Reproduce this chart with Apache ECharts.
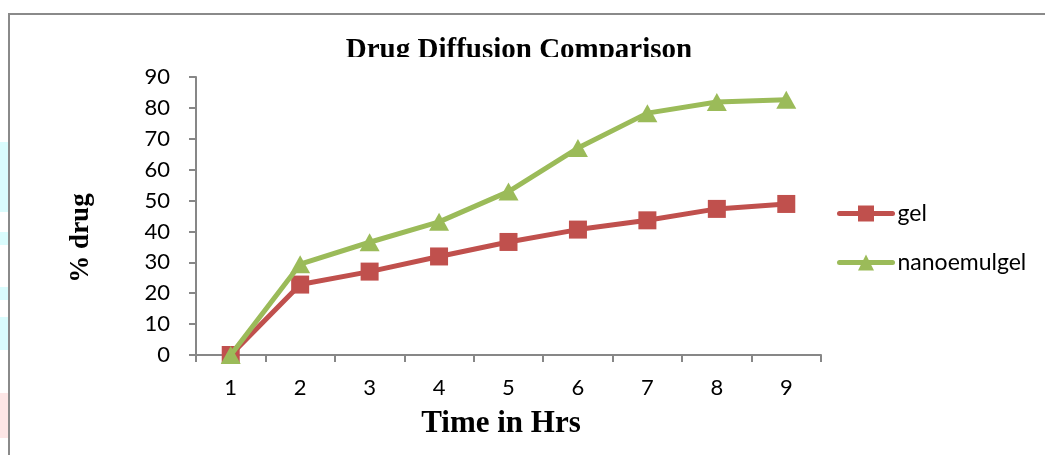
<!DOCTYPE html>
<html>
<head>
<meta charset="utf-8">
<title>Drug Diffusion Comparison</title>
<script src="https://cdn.jsdelivr.net/npm/echarts@6/dist/echarts.min.js"></script>
<style>
  html, body { margin: 0; padding: 0; background: #ffffff; }
  #chart { width: 1045px; height: 455px; }
</style>
</head>
<body>
<div id="chart"></div>
<script>
// Time points (hours)
const categories = ['1', '2', '3', '4', '5', '6', '7', '8', '9'];
// Cumulative % drug diffused
const gelValues = [0, 22.8, 27.0, 31.9, 36.6, 40.6, 43.6, 47.3, 48.9];
const nanoemulgelValues = [0, 29.4, 36.5, 43.1, 52.9, 67.0, 78.3, 81.9, 82.6];
// Value axis range
const yMin = 0;
const yMax = 90;
const yStep = 10;

const chart = echarts.init(document.getElementById('chart'), null, { renderer: 'canvas' });

const axisGray = '#878787';
const labelFont = 'Lato, "Open Sans", sans-serif';
const serifFont = '"Liberation Serif", "DejaVu Serif", serif';

chart.setOption({
  backgroundColor: '#ffffff',
  animation: false,
  grid: { left: 196, right: 224, top: 77, bottom: 100, containLabel: false },
  legend: {
    orient: 'vertical',
    left: 832,
    top: 197,
    itemWidth: 53,
    itemHeight: 20,
    itemGap: 26,
    lineStyle: { width: 5, cap: 'round' },
    textStyle: { fontFamily: labelFont, fontSize: 23, color: '#000', lineHeight: 22 },
    data: ['gel', 'nanoemulgel']
  },
  xAxis: {
    type: 'category',
    data: categories,
    boundaryGap: true,
    axisLine: { lineStyle: { color: axisGray, width: 2 } },
    axisTick: { show: true, length: 7, alignWithLabel: false, lineStyle: { color: axisGray, width: 2 } },
    axisLabel: { color: '#000', fontFamily: labelFont, fontSize: 22, margin: 22 },
    splitLine: { show: false }
  },
  yAxis: {
    type: 'value',
    min: yMin,
    max: yMax,
    interval: yStep,
    axisLine: { show: true, lineStyle: { color: axisGray, width: 2 } },
    axisTick: { show: true, length: 7, lineStyle: { color: axisGray, width: 2 } },
    axisLabel: { color: '#000', fontFamily: labelFont, fontSize: 22, margin: 26 },
    splitLine: { show: false }
  },
  series: [
    {
      name: 'gel',
      type: 'line',
      data: gelValues,
      color: '#C0504D',
      lineStyle: { width: 5, color: '#C0504D' },
      symbol: 'rect',
      symbolSize: 18,
      itemStyle: { color: '#C0504D' },
      z: 3
    },
    {
      name: 'nanoemulgel',
      type: 'line',
      data: nanoemulgelValues,
      color: '#9BBB59',
      lineStyle: { width: 5, color: '#9BBB59' },
      symbol: 'triangle',
      symbolSize: [20, 18],
      itemStyle: { color: '#9BBB59' },
      z: 4
    }
  ],
  graphic: [
    // faint coloured bleed along the left edge of the page
    { type: 'rect', shape: { x: 0, y: 142, width: 8, height: 70 }, style: { fill: '#dafcfd' }, silent: true },
    { type: 'rect', shape: { x: 0, y: 232, width: 8, height: 13 }, style: { fill: '#dafcfd' }, silent: true },
    { type: 'rect', shape: { x: 0, y: 287, width: 8, height: 13 }, style: { fill: '#dafcfd' }, silent: true },
    { type: 'rect', shape: { x: 0, y: 317, width: 8, height: 33 }, style: { fill: '#dafcfd' }, silent: true },
    { type: 'rect', shape: { x: 0, y: 393, width: 8, height: 45 }, style: { fill: '#fde6e6' }, silent: true },
    // chart frame
    {
      type: 'polyline',
      shape: { points: [[9, 455], [9, 14], [1045, 14]] },
      style: { stroke: '#8a8a8a', lineWidth: 2, fill: null },
      silent: true
    },
    // chart title (lower edge hidden behind the plot area)
    {
      type: 'text',
      x: 519, y: 51,
      style: {
        text: 'Drug Diffusion Comparison',
        font: 'bold 29px ' + serifFont,
        fill: '#000',
        align: 'center',
        verticalAlign: 'middle'
      },
      z: 10
    },
    {
      type: 'rect',
      shape: { x: 330, y: 57, width: 380, height: 10 },
      style: { fill: '#ffffff' },
      z: 11,
      silent: true
    },
    // axis titles
    {
      type: 'text',
      x: 81, y: 238,
      rotation: Math.PI / 2,
      style: {
        text: '% drug',
        font: 'bold 27px ' + serifFont,
        fill: '#000',
        align: 'center',
        verticalAlign: 'middle'
      },
      z: 10
    },
    {
      type: 'text',
      x: 501, y: 424,
      style: {
        text: 'Time in Hrs',
        font: 'bold 31px ' + serifFont,
        fill: '#000',
        align: 'center',
        verticalAlign: 'middle'
      },
      z: 10
    }
  ]
});
</script>
</body>
</html>
